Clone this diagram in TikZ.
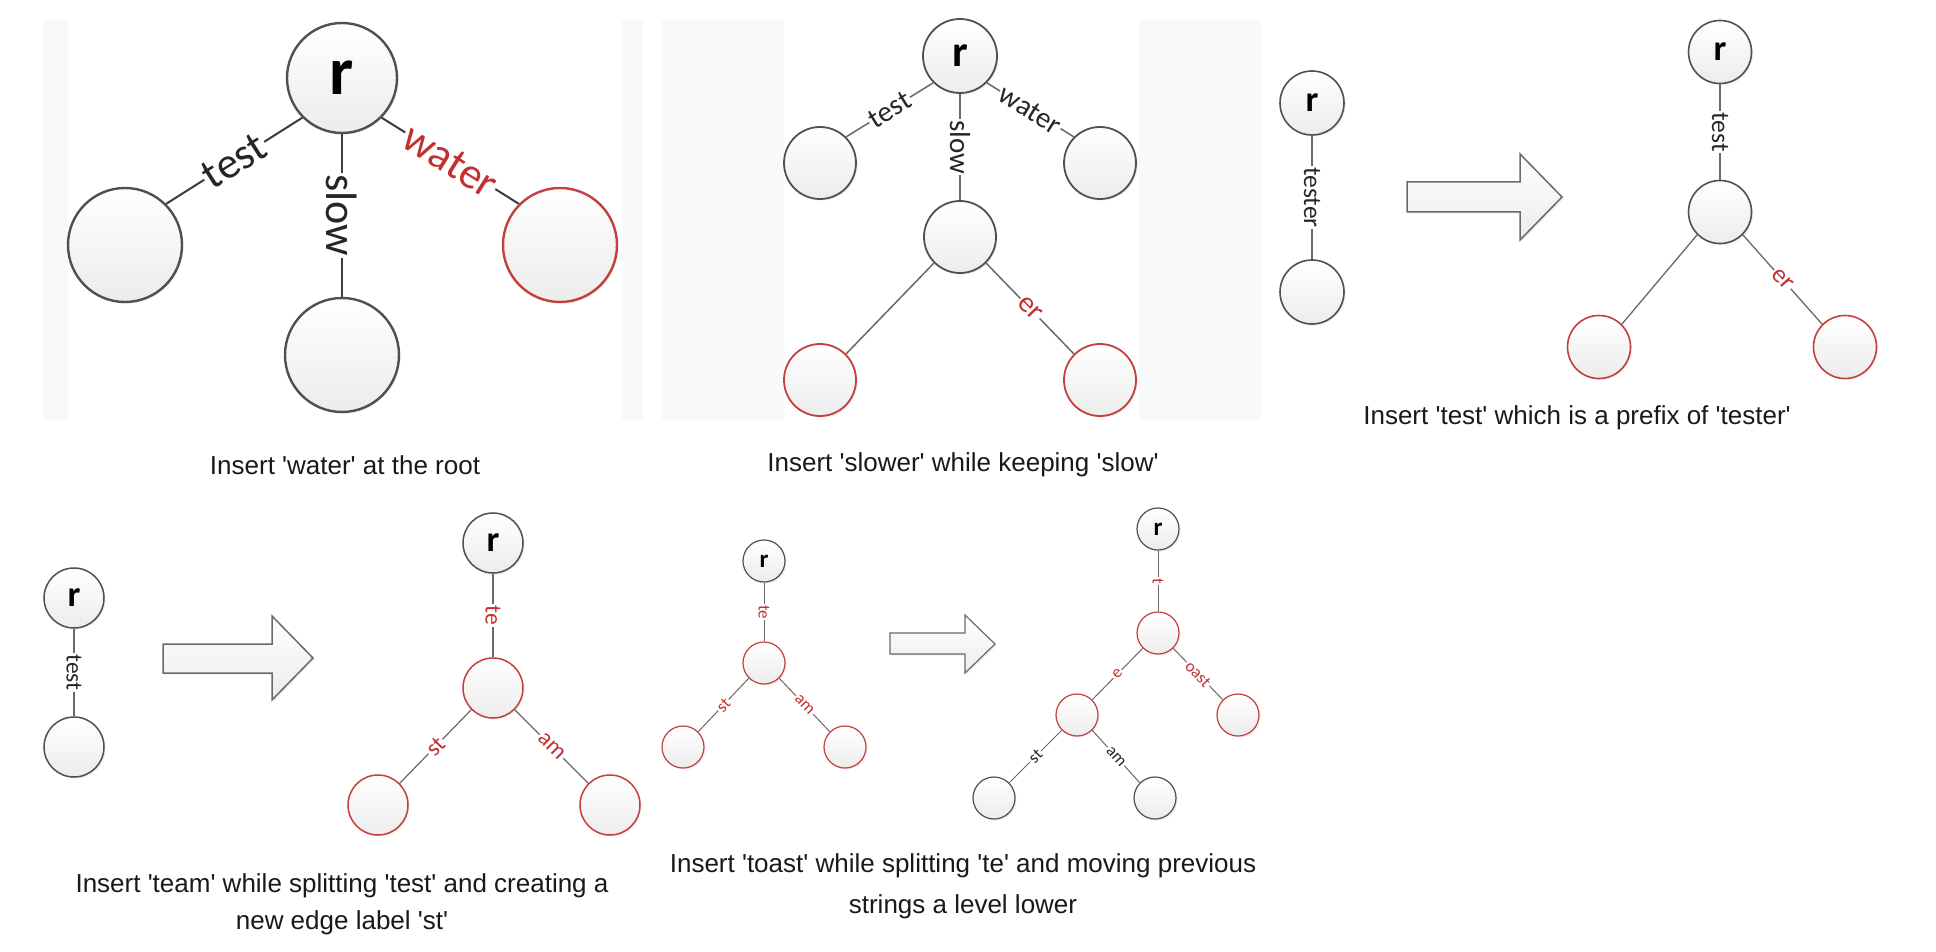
\documentclass[tikz,border=0pt]{standalone}
\usepackage{fontspec}
\newfontfamily\capfont{Liberation Sans}
\newfontfamily\labfont{Carlito}
\usetikzlibrary{shadows}
\definecolor{panelbg}{RGB}{248,249,250}
\definecolor{ringgray}{RGB}{80,80,80}
\definecolor{ringred}{RGB}{196,64,60}
\definecolor{linegray}{RGB}{105,105,105}
\definecolor{linedark}{RGB}{60,60,60}
\definecolor{txtred}{RGB}{196,48,48}
\definecolor{nodebot}{RGB}{236,236,236}
\definecolor{captxt}{RGB}{25,25,25}
\tikzset{
  vtx/.style={circle, inner sep=0pt, minimum size=#1, draw=ringgray, top color=white, bottom color=nodebot,
    drop shadow={shadow xshift=1.5pt, shadow yshift=-1.5pt, opacity=0.15}},
  redvtx/.style={vtx=#1, draw=ringred},
  conn/.style={draw=linegray},
  elab/.style={fill=white, inner sep=1.5pt, text=black!85, font=\labfont\fontsize{#1}{#1}\selectfont},
  relab/.style={elab=#1, text=txtred},
  rootlab/.style={font=\labfont\bfseries\fontsize{#1}{#1}\selectfont},
  caption/.style={font=\capfont\fontsize{26}{#1}\selectfont, text=captxt, align=center},
  blockarrow/.style={draw=ringgray!85, line width=1.5pt, top color=white, bottom color=nodebot,
    drop shadow={shadow xshift=1.5pt, shadow yshift=-1.5pt, opacity=0.15}}
}
\begin{document}
\begin{tikzpicture}[x=1pt, y=-1pt]
\useasboundingbox (0,0) rectangle (1936,952);
\fill[white] (0,0) rectangle (1936,952);
% light panels
\fill[panelbg] (43,20) rectangle (68,420);
\fill[panelbg] (622,20) rectangle (643,420);
\fill[panelbg] (662,20) rectangle (784,420);
\fill[panelbg] (1139,20) rectangle (1262,420);

% ---------- Panel 1 ----------
\begin{scope}[line width=2.4pt]
\node[vtx=110, rootlab=68] (p1r) at (342,78) {r};
\node[vtx=114] (p1a) at (125,245) {};
\node[vtx=114] (p1b) at (342,355) {};
\node[redvtx=114] (p1c) at (560,245) {};
\draw[draw=linedark, line width=2pt] (p1r.225) -- node[elab=44, sloped] {test} (p1a.45);
\draw[draw=linedark, line width=2pt] (p1r.south) -- node[elab=44, rotate=-90] {slow} (p1b.north);
\draw[draw=linedark, line width=2pt] (p1r.-45) -- node[relab=44, sloped] {water} (p1c.135);
\end{scope}
\node[caption=38] (cap1) at (345,465) {Insert 'water' at the root};

% ---------- Panel 2 ----------
\begin{scope}[line width=1.8pt]
\node[vtx=74, rootlab=44] (p2r) at (960,56) {r};
\node[vtx=72] (p2a) at (820,163) {};
\node[vtx=72] (p2b) at (960,237) {};
\node[vtx=72] (p2c) at (1100,163) {};
\node[redvtx=72] (p2d) at (820,380) {};
\node[redvtx=72] (p2e) at (1100,380) {};
\draw[conn, line width=1.5pt] (p2r.225) -- node[elab=29, sloped] {test} (p2a.45);
\draw[conn, line width=1.5pt] (p2r.south) -- node[elab=29, rotate=-90] {slow} (p2b.north);
\draw[conn, line width=1.5pt] (p2r.-45) -- node[elab=29, sloped] {water} (p2c.135);
\draw[conn, line width=1.5pt] (p2b.225) -- (p2d.45);
\draw[conn, line width=1.5pt] (p2b.-45) -- node[relab=29, sloped] {er} (p2e.135);
\end{scope}
\node[caption=38] (cap2) at (963,465) {Insert 'slower' while keeping 'slow'};

% ---------- Panel 3 ----------
\begin{scope}[line width=1.6pt]
\node[vtx=64, rootlab=36] (p3r) at (1312,103) {r};
\node[vtx=64] (p3a) at (1312,292) {};
\draw[conn, line width=1.3pt] (p3r.south) -- node[elab=25.5, rotate=-90] {tester} (p3a.north);
\path[blockarrow] (1407,182) -- (1520,182) -- (1520,154) -- (1562,197) -- (1520,240) -- (1520,212) -- (1407,212) -- cycle;
\node[vtx=63, rootlab=36] (q3r) at (1720,52) {r};
\node[vtx=63] (q3m) at (1720,212) {};
\node[redvtx=63] (q3a) at (1599,347) {};
\node[redvtx=63] (q3b) at (1845,347) {};
\draw[conn, line width=1.3pt] (q3r.south) -- node[elab=25.5, rotate=-90] {test} (q3m.north);
\draw[conn, line width=1.3pt] (q3m.225) -- (q3a.45);
\draw[conn, line width=1.3pt] (q3m.-45) -- node[relab=25.5, sloped] {er} (q3b.135);
\end{scope}
\node[caption=38] (cap3) at (1577,418) {Insert 'test' which is a prefix of 'tester'};

% ---------- Panel 4 ----------
\begin{scope}[line width=1.5pt]
\node[vtx=60, rootlab=36] (p4r) at (74,598) {r};
\node[vtx=60] (p4a) at (74,747) {};
\draw[conn, line width=1.2pt] (p4r.south) -- node[elab=23.5, rotate=-90] {test} (p4a.north);
\path[blockarrow] (163,644) -- (272,644) -- (272,616) -- (313,658) -- (272,700) -- (272,673) -- (163,673) -- cycle;
\node[vtx=60, rootlab=36] (q4r) at (493,543) {r};
\node[redvtx=60] (q4m) at (493,688) {};
\node[redvtx=60] (q4a) at (378,805) {};
\node[redvtx=60] (q4b) at (610,805) {};
\draw[conn, line width=1.2pt] (q4r.south) -- node[relab=23.5, rotate=-90] {te} (q4m.north);
\draw[conn, line width=1.2pt] (q4m.225) -- node[relab=23.5, sloped] {st} (q4a.45);
\draw[conn, line width=1.2pt] (q4m.-45) -- node[relab=23.5, sloped] {am} (q4b.135);
\end{scope}
\node[caption=37] (cap4) at (342,904) {Insert 'team' while splitting 'test' and creating a\\new edge label 'st'};

% ---------- Panel 5 ----------
\begin{scope}[line width=1.2pt]
\node[vtx=42, rootlab=25] (p5r) at (764,561) {r};
\node[redvtx=42] (p5m) at (764,663) {};
\node[redvtx=42] (p5a) at (683,747) {};
\node[redvtx=42] (p5b) at (845,747) {};
\draw[conn, line width=1pt] (p5r.south) -- node[relab=17, rotate=-90] {te} (p5m.north);
\draw[conn, line width=1pt] (p5m.225) -- node[relab=17, sloped] {st} (p5a.45);
\draw[conn, line width=1pt] (p5m.-45) -- node[relab=17, sloped] {am} (p5b.135);
\path[blockarrow, line width=1.2pt] (890,633) -- (965,633) -- (965,615) -- (995,644) -- (965,673) -- (965,654) -- (890,654) -- cycle;
\node[vtx=42, rootlab=25] (q5r) at (1158,529) {r};
\node[redvtx=42] (q5m) at (1158,633) {};
\node[redvtx=42] (q5e) at (1077,715) {};
\node[redvtx=42] (q5o) at (1238,715) {};
\node[vtx=42] (q5s) at (994,798) {};
\node[vtx=42] (q5t) at (1155,798) {};
\draw[conn, line width=1pt] (q5r.south) -- node[relab=17, rotate=-90] {t} (q5m.north);
\draw[conn, line width=1pt] (q5m.225) -- node[relab=17, sloped] {e} (q5e.45);
\draw[conn, line width=1pt] (q5m.-45) -- node[relab=17, sloped] {oast} (q5o.135);
\draw[conn, line width=1pt] (q5e.225) -- node[elab=17, sloped] {st} (q5s.45);
\draw[conn, line width=1pt] (q5e.-45) -- node[elab=17, sloped] {am} (q5t.135);
\end{scope}
\node[caption=41] (cap5) at (963,886) {Insert 'toast' while splitting 'te' and moving previous\\strings a level lower};
\end{tikzpicture}
\end{document}
